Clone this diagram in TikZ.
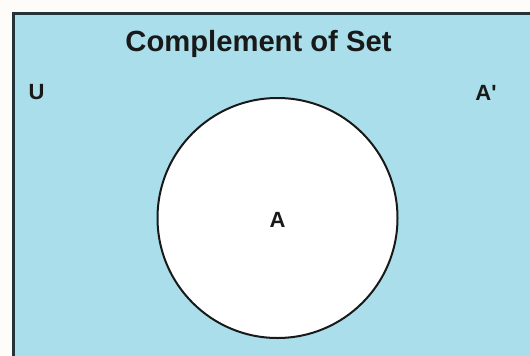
\documentclass[tikz,border=0pt]{standalone}
\usepackage{fontspec}
\setmainfont{Liberation Sans}
\newfontfamily\rawfont[Ligatures=ResetAll]{Liberation Sans}
\definecolor{bgblue}{HTML}{A9DEEA}
\definecolor{edgecol}{HTML}{24323A}
\definecolor{paper}{HTML}{FDFCF9}
\begin{document}
\begin{tikzpicture}[x=1pt,y=-1pt,
  lbl/.style={font=\bfseries\fontsize{22}{24}\selectfont, text=black!90, inner sep=0pt},
  ttl/.style={font=\bfseries\fontsize{29.2}{31}\selectfont, text=black!90, inner sep=0pt},
  setcirc/.style={circle, draw=black!90, line width=2pt, fill=white, minimum size=240pt, inner sep=0pt}]
\useasboundingbox (0,0) rectangle (530,356);
\fill[paper] (0,0) rectangle (530,356);
\begin{scope}
\clip (0,0) rectangle (530,356);
\draw[edgecol, line width=3pt, fill=bgblue] (13.5,13.5) rectangle (545,370);
\end{scope}
\node[setcirc] (A) at (277.5,218) {};
\node[lbl] (alabel) at (277.5,220) {A};
\node[ttl] (title) at (258.5,44) {Complement of Set};
\node[lbl] (U) at (36.5,92.5) {U};
\node[lbl, font=\rawfont\bfseries\fontsize{22}{24}\selectfont] (Ac) at (486,92.5) {A'};
\end{tikzpicture}
\end{document}
